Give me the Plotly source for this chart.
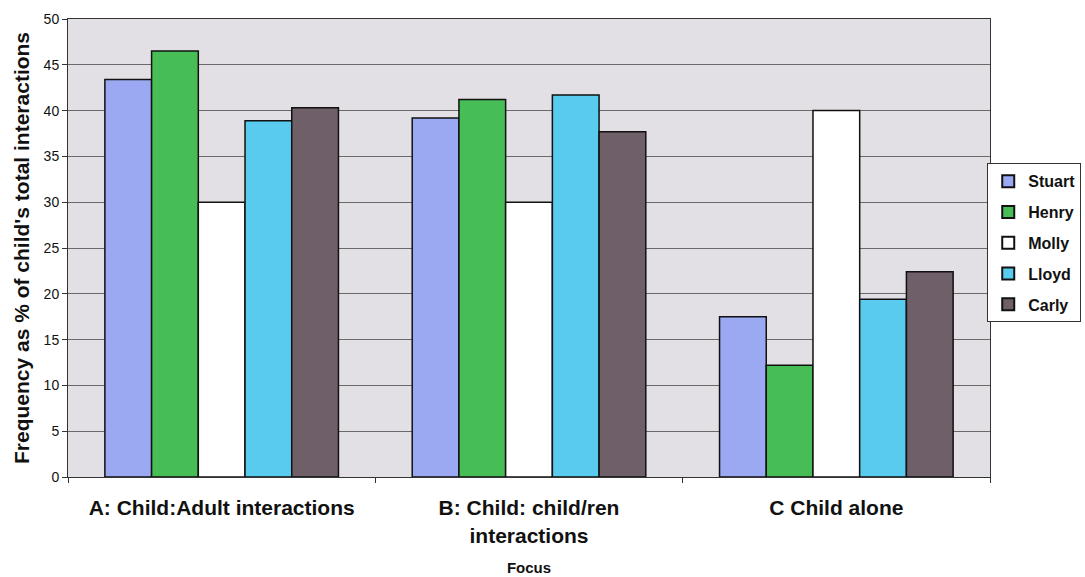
import plotly.graph_objects as go

categories = ["A: Child:Adult interactions", "B: Child: child/ren<br>interactions", "C Child alone"]
names = ["Stuart", "Henry", "Molly", "Lloyd", "Carly"]
stuart = [43.4, 39.2, 17.5]
henry = [46.5, 41.2, 12.2]
molly = [30.0, 30.0, 40.0]
lloyd = [38.9, 41.7, 19.4]
carly = [40.3, 37.7, 22.4]
series = [stuart, henry, molly, lloyd, carly]
colors = ["#9aa9f2", "#46bd55", "#ffffff", "#58cbee", "#6f5f68"]
y_ticks = [0, 5, 10, 15, 20, 25, 30, 35, 40, 45, 50]

fig = go.Figure()
for n, vals, c in zip(names, series, colors):
    fig.add_trace(go.Bar(
        name=n, x=categories, y=vals, legendgroup=n,
        marker=dict(color=c, line=dict(color="#111111", width=1.5)),
    ))

fig.update_layout(
    width=1085, height=577,
    margin=dict(l=68, r=95, t=19, b=100, autoexpand=False),
    barmode="group", bargap=0.24, bargroupgap=0,
    paper_bgcolor="white", plot_bgcolor="#e2e0e5",
    font=dict(family="Liberation Sans, Arial", color="#111111"),
    legend=dict(
        x=0.997, y=0.685, xanchor="left", yanchor="top",
        font=dict(size=16, family="Liberation Sans, Arial", color="#111111", weight="bold"),
        bordercolor="#333333", borderwidth=1, bgcolor="white",
        itemsizing="constant", traceorder="grouped", tracegroupgap=7, itemwidth=30,
    ),
    xaxis=dict(
        tickfont=dict(size=21, weight="bold"),
        ticks="outside", tickson="boundaries", ticklen=5, tickcolor="#333333",
        ticklabelstandoff=12,
        showline=True, linecolor="#333333", linewidth=1, mirror=True,
        title=dict(text="Focus", font=dict(size=15, weight="bold"), standoff=16),
    ),
    yaxis=dict(
        range=[0, 50], tickvals=y_ticks, tickfont=dict(size=14),
        ticks="outside", ticklen=5, tickcolor="#333333",
        showgrid=True, gridcolor="#6a6a6a", gridwidth=1,
        showline=True, linecolor="#333333", linewidth=1, mirror=True,
        zeroline=False,
        title=dict(text="Frequency as % of child's total interactions",
                   font=dict(size=21, weight="bold"), standoff=8),
    ),
)

fig.write_html("out.html")
